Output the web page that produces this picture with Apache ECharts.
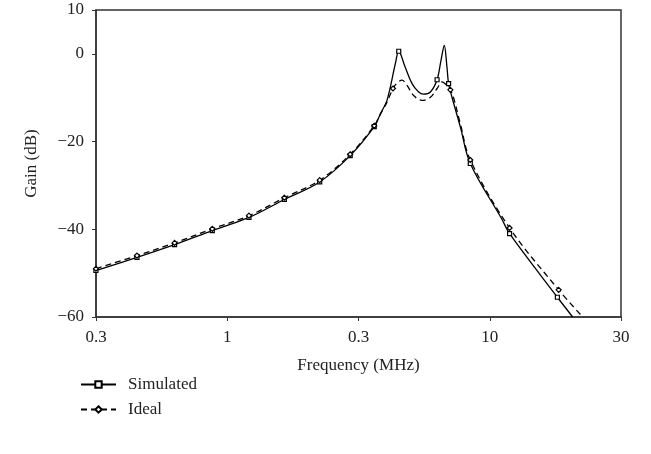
<!DOCTYPE html>
<html>
<head>
<meta charset="utf-8">
<script src="https://cdn.jsdelivr.net/npm/echarts@6/dist/echarts.min.js"></script>
<style>html,body{margin:0;padding:0;background:#fff}#c{width:651px;height:454px}</style>
</head>
<body>
<div id="c"></div>
<script>
// Frequency in MHz, gain in dB
const simFreq = [0.316,0.453,0.630,0.877,1.21,1.65,2.25,2.94,3.63,3.83,4.06,4.37,4.50,4.76,5.06,5.36,5.60,5.94,6.30,6.52,6.71,6.87,6.97,7.18,7.73,8.43,11.1,11.9,18.1,20.7];
const simGain = [-49.4,-46.4,-43.5,-40.3,-37.3,-33.2,-29.2,-23.2,-16.6,-13.7,-10.6,-2.2,0.6,-3.0,-6.8,-8.7,-9.2,-8.7,-5.9,-1.5,1.9,-3.0,-6.8,-9.9,-16.7,-25.0,-37.6,-41.0,-55.5,-60.0];
const simMarkers = [0.316,0.453,0.630,0.877,1.21,1.65,2.25,2.94,3.63,4.50,6.30,6.97,8.43,11.9,18.1];

const idealFreq = [0.316,0.453,0.630,0.877,1.21,1.65,2.25,2.94,3.63,3.83,4.06,4.28,4.43,4.63,4.84,5.13,5.52,5.94,6.30,6.58,6.87,7.08,7.28,7.73,8.43,11.9,18.3,22.6];
const idealGain = [-49.0,-46.0,-43.1,-39.9,-36.9,-32.8,-28.8,-22.9,-16.4,-13.8,-11.0,-7.9,-6.7,-6.0,-7.2,-9.5,-10.6,-9.9,-7.9,-6.4,-7.2,-8.2,-10.0,-16.0,-24.2,-39.7,-53.8,-60.0];
const idealMarkers = [0.316,0.453,0.630,0.877,1.21,1.65,2.25,2.94,3.63,4.28,7.08,8.43,11.9,18.3];

const xTickLabels = ["0.3","1","0.3","10","30"];
const yTickValues = [-60,-40,-20,0,10];

const FONT = '"Liberation Serif","DejaVu Serif",serif';
const minus = s => String(s).replace('-', '\u2212');

function build(freq, gain, markers) {
  return freq.map((f, i) => {
    const item = { value: [Math.log10(f), gain[i]] };
    if (markers.indexOf(f) < 0) item.symbol = 'none';
    return item;
  });
}

const chart = echarts.init(document.getElementById('c'), null, { renderer: 'canvas' });
chart.setOption({
  animation: false,
  backgroundColor: '#fff',
  textStyle: { fontFamily: FONT },
  grid: { left: 96, right: 30, top: 10, bottom: 137, show: true, borderColor: '#333', borderWidth: 1.5 },
  xAxis: {
    type: 'value', min: -0.5, max: 1.5, interval: 0.5,
    name: 'Frequency (MHz)', nameLocation: 'middle', nameGap: 40,
    nameTextStyle: { fontFamily: FONT, fontSize: 17, color: '#222' },
    axisLine: { show: true, onZero: false, lineStyle: { color: '#333', width: 1.5 } },
    axisTick: { show: true, length: 4, inside: false, lineStyle: { color: '#333' } },
    axisLabel: { fontFamily: FONT, fontSize: 17, color: '#222', margin: 12,
      formatter: v => xTickLabels[Math.round((v + 0.5) / 0.5)] },
    splitLine: { show: false }
  },
  yAxis: {
    type: 'value', min: -60, max: 10,
    name: 'Gain (dB)', nameLocation: 'middle', nameGap: 56, nameRotate: 90,
    nameTextStyle: { fontFamily: FONT, fontSize: 17, color: '#222' },
    axisLine: { show: true, onZero: false, lineStyle: { color: '#333', width: 1.5 } },
    axisTick: { show: true, length: 4, customValues: yTickValues, lineStyle: { color: '#333' } },
    axisLabel: { fontFamily: FONT, fontSize: 17, color: '#222', margin: 12,
      customValues: yTickValues, formatter: v => minus(v) },
    splitLine: { show: false }
  },
  legend: {
    orient: 'vertical', left: 75, top: 371, itemGap: 8, itemWidth: 35, itemHeight: 8,
    textStyle: { fontFamily: FONT, fontSize: 17, color: '#222', padding: [0, 0, 0, 7] },
    data: ['Simulated', 'Ideal']
  },
  series: [
    {
      name: 'Simulated', type: 'line', smooth: 0.35,
      data: build(simFreq, simGain, simMarkers),
      symbol: 'rect', symbolSize: 4, showAllSymbol: true,
      lineStyle: { color: '#000', width: 1.3 },
      itemStyle: { color: '#fff', borderColor: '#000', borderWidth: 1.2 }
    },
    {
      name: 'Ideal', type: 'line', smooth: 0.35,
      data: build(idealFreq, idealGain, idealMarkers),
      symbol: 'diamond', symbolSize: 5, showAllSymbol: true,
      lineStyle: { color: '#000', width: 1.3, type: [6, 4] },
      itemStyle: { color: '#fff', borderColor: '#000', borderWidth: 1.2 }
    }
  ]
});
</script>
</body>
</html>
